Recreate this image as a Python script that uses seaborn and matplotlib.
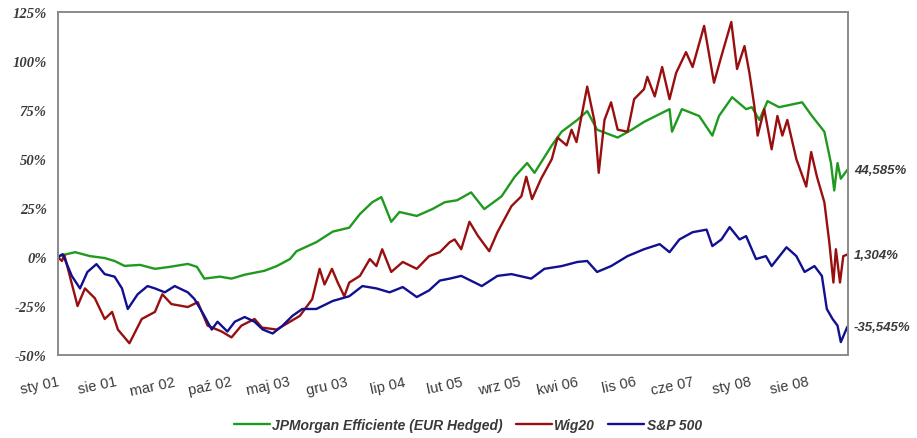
import matplotlib
matplotlib.use("Agg")
import matplotlib.pyplot as plt
import seaborn as sns
import pandas as pd

# ---- data (months since Jan 2001, cumulative return in %) ----
jpm_months = [0, 0.6, 2.1, 3.9, 5.7, 6.9, 8.1, 10, 11.8, 13.6, 15.8, 16.9, 17.8, 19.7, 21.1, 22.7,
              23.9, 25.1, 26.6, 28.2, 29, 31.4, 33.4, 35.4, 36.7, 38.2, 39.3, 40.5, 41.5, 43.6,
              45.5, 47, 48.5, 50.2, 51.8, 53.9, 55.5, 57, 57.9, 60, 61.2, 63.1, 64.3, 65.5, 68,
              69.7, 71.2, 73.1, 74.3, 74.6, 75.8, 77.9, 79.5, 80.3, 81.9, 83.6, 84.3, 85.2, 86.2,
              87.6, 90.4, 91.6, 93.1, 93.9, 94.3, 94.7, 95.1, 95.9]
jpm_values = [0, 1, 2.5, 0.5, -0.5, -2, -4.5, -4, -6, -5, -3.5, -5, -11, -10, -11, -9,
              -8, -7, -4.6, -1, 3, 7.6, 13, 15, 22, 28, 30.6, 18, 23, 21,
              24.5, 28, 29, 33, 24.5, 31, 41, 48, 43, 57, 64, 70, 74.5, 65, 61,
              65, 69, 73, 75.5, 64, 75.5, 72, 62, 72, 81.6, 75.5, 76.5, 70, 79.6,
              76.5, 79, 72, 64, 48, 34, 48, 40, 44.585]

wig_months = [0, 0.5, 0.8, 2.1, 2.4, 3.3, 4.5, 5.7, 6.6, 7.3, 8.7, 10.2, 11.8, 12.7, 13.8, 15.8,
              17, 18.2, 19.9, 21.1, 22.3, 23.9, 24.8, 26.6, 28.2, 29.4, 30.9, 31.8, 32.4, 33.3,
              34, 34.8, 35.4, 36.7, 37.9, 38.7, 39.4, 40.5, 41.9, 43.6, 45.1, 46.4, 47.6, 48.2,
              49, 50, 51, 52.4, 53.4, 55.1, 56.3, 56.9, 57.6, 58.7, 60, 60.7, 61.8, 62.4, 63,
              64.3, 65.2, 65.7, 66.4, 67.2, 68, 69.2, 70, 71.2, 71.6, 72.5, 73.4, 74.3, 75.1,
              76.3, 77.1, 78.5, 79.7, 80.6, 81.8, 82.5, 83.4, 84, 84.6, 85, 85.8, 86.7, 87.4,
              88, 88.6, 89.7, 90.9, 91.5, 92.2, 93.1, 93.7, 94.2, 94.5, 95, 95.4, 95.9]
wig_values = [0, -2, 1, -20, -25, -16, -21, -31.6, -28, -37, -44, -31.6, -28, -19, -24, -25.5,
              -23, -35, -38, -41, -35, -31.6, -36, -37, -33, -30, -21.5, -6, -14, -6,
              -13, -20, -13, -9.6, -1, -4.6, 4, -7.6, -2.5, -6, 0.5, 2.5, 7.6, 9,
              4, 18, 11, 3, 12.7, 26, 31, 41, 29.6, 40, 50, 61, 57, 65, 58.7,
              87, 69, 43, 70, 79, 65, 64, 80.6, 85.7, 92, 82, 97, 80.6, 94,
              104.6, 97, 118, 89, 102.6, 120, 96, 107.7, 94, 77, 62, 75.5, 55, 72,
              62, 70, 50, 36, 53.6, 41, 28, 7.6, -13, 4, -13, 0.5, 1.304]

sp_months = [0, 0.6, 1.7, 2.7, 3.6, 4.7, 5.7, 6.9, 7.8, 8.5, 9.7, 10.9, 11.8, 13, 14.2, 15.8,
             16.6, 17.8, 18.7, 19.4, 20.6, 21.5, 22.7, 23.9, 24.9, 26.1, 27.3, 28.5, 29.7, 31.4,
             33.4, 35.4, 37, 38.7, 40.3, 41.9, 43.6, 45.1, 46.4, 47.6, 49, 51.5, 53.4, 55.1,
             57.5, 59.1, 61.2, 63.1, 64.3, 65.5, 67.2, 69.2, 71.2, 73.1, 74.3, 75.5, 77.1, 78.8,
             79.5, 80.6, 81.6, 82.8, 83.6, 84.8, 86, 86.7, 88.5, 89.7, 90.7, 91.9, 92.8, 93.4,
             94.1, 94.7, 95.1, 95.9]
sp_values = [0, 1.5, -9.6, -16, -7.6, -3.6, -8.7, -10, -16, -26.5, -19, -14.8, -16, -18, -14.8, -18,
             -21.4, -30, -37, -33, -38, -33, -30.6, -33, -37, -39, -35, -30, -26.5, -26.5,
             -22.4, -20, -14.8, -16, -18, -15.3, -20.4, -17, -12, -11, -9.6, -14.8, -9.6, -8.7,
             -11, -6, -4.6, -2.5, -2, -7.6, -4.6, 0.5, 4, 6.6, 2.5, 9, 12.7, 14,
             5.6, 9, 15.3, 9, 10.7, -1, 0.5, -4.6, 5, 0.5, -7.6, -4.6, -9.6, -26.5,
             -31.6, -35, -43.4, -35.545]

series_names = ["JPMorgan Efficiente (EUR Hedged)", "Wig20", "S&P 500"]
final_labels = ["44,585%", "1,304%", "-35,545%"]
tick_labels = ["sty 01", "sie 01", "mar 02", "paź 02", "maj 03", "gru 03", "lip 04",
               "lut 05", "wrz 05", "kwi 06", "lis 06", "cze 07", "sty 08", "sie 08"]
y_ticks = [-50, -25, 0, 25, 50, 75, 100, 125]

colors = ["#1f9a1f", "#990f0f", "#101090"]

df = pd.concat([
    pd.DataFrame({"month": jpm_months, "value": jpm_values, "series": series_names[0]}),
    pd.DataFrame({"month": wig_months, "value": wig_values, "series": series_names[1]}),
    pd.DataFrame({"month": sp_months, "value": sp_values, "series": series_names[2]}),
])

sns.set_theme(style="white")
plt.rcParams['font.family'] = ['Liberation Sans', 'DejaVu Sans']

fig = plt.figure(figsize=(9.17, 4.39), dpi=100)
ax = fig.add_axes([0.063, 0.189, 0.862, 0.781])

sns.lineplot(data=df, x="month", y="value", hue="series", hue_order=series_names,
             palette=colors, linewidth=1.7, ax=ax, sort=False, estimator=None, legend=True)

ax.set_xlim(0, 96)
ax.set_ylim(-50, 125)
ax.set_yticks(y_ticks)
ax.set_yticklabels([f"{v}%" for v in y_ticks], family=['Liberation Serif'],
                   fontweight='bold', fontstyle='italic', fontsize=10.5, color="#3a3a3a")
ax.set_xticks([7 * i for i in range(len(tick_labels))])
ax.set_xticklabels(tick_labels, rotation=12, ha='right', rotation_mode='anchor',
                   fontsize=10.5, color="#3a3a3a")
ax.tick_params(axis='y', length=0, pad=8)
ax.tick_params(axis='x', length=0, pad=14)
ax.set_xlabel("")
ax.set_ylabel("")

for s in ax.spines.values():
    s.set_color("#8a8a8a")
    s.set_linewidth(1.4)

finals = [jpm_values[-1], wig_values[-1], sp_values[-1]]
for val, lab in zip(finals, final_labels):
    ax.annotate(lab, xy=(1.0, val), xycoords=('axes fraction', 'data'),
                xytext=(4, 0), textcoords='offset points', va='center', ha='left',
                fontsize=9.5, fontweight='bold', fontstyle='italic', color="#3a3a3a")

handles, labels = ax.get_legend_handles_labels()
ax.legend_.remove()
leg = fig.legend(handles, labels, loc='center', bbox_to_anchor=(0.51, 0.03), ncol=3,
                 frameon=False, handlelength=2.6, handletextpad=0.2, columnspacing=0.9,
                 prop={'family': 'Liberation Sans', 'weight': 'bold', 'style': 'italic', 'size': 10})
for t in leg.get_texts():
    t.set_color("#3a3a3a")

fig.savefig("out.png", dpi=100)
